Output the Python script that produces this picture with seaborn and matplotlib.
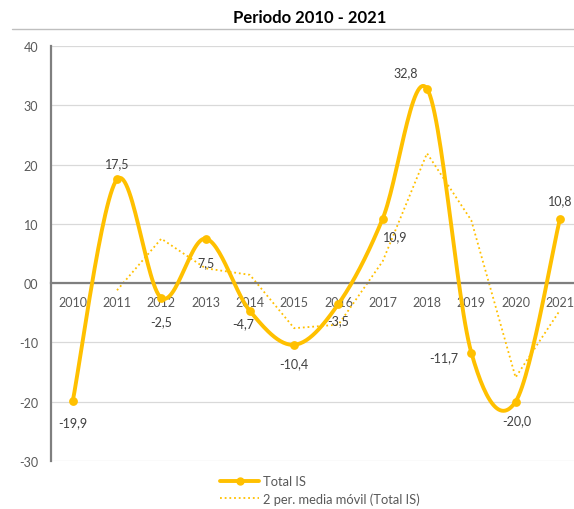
import numpy as np
import pandas as pd
import seaborn as sns
import matplotlib.pyplot as plt
from matplotlib.lines import Line2D

# data
years = [2010, 2011, 2012, 2013, 2014, 2015, 2016, 2017, 2018, 2019, 2020, 2021]
total_is = [-19.9, 17.5, -2.5, 7.5, -4.7, -10.4, -3.5, 10.9, 32.8, -11.7, -20.0, 10.8]
media_movil = [np.nan, -1.2, 7.5, 2.5, 1.4, -7.6, -7.0, 3.7, 21.9, 10.6, -15.9, -4.6]
labels = ["-19,9", "17,5", "-2,5", "7,5", "-4,7", "-10,4", "-3,5", "10,9", "32,8", "-11,7", "-20,0", "10,8"]
y_ticks = [-30, -20, -10, 0, 10, 20, 30, 40]
y_ticklabels = ["-30", "-20", "-10", "00", "10", "20", "30", "40"]

GOLD = "#FFC000"
GRAY = "#595959"

sns.set_theme(style="white")
plt.rcParams['font.family'] = ['Lato', 'DejaVu Sans']


def excel_smooth(x, y, n=30):
    # bezier segments like Excel's "smoothed line" (catmull-rom style tangents)
    x = np.asarray(x, float)
    y = np.asarray(y, float)
    px = np.concatenate([[x[0]], x, [x[-1]]])
    py = np.concatenate([[y[0]], y, [y[-1]]])
    xs, ys = [], []
    t = np.linspace(0, 1, n)
    for i in range(len(x) - 1):
        p0 = np.array([px[i + 1], py[i + 1]])
        p3 = np.array([px[i + 2], py[i + 2]])
        c1 = p0 + (p3 - np.array([px[i], py[i]])) / 6
        c2 = p3 - (np.array([px[i + 3], py[i + 3]]) - p0) / 6
        pts = ((1 - t) ** 3)[:, None] * p0 + (3 * (1 - t) ** 2 * t)[:, None] * c1 \
            + (3 * (1 - t) * t ** 2)[:, None] * c2 + (t ** 3)[:, None] * p3
        xs.extend(pts[:, 0])
        ys.extend(pts[:, 1])
    return np.array(xs), np.array(ys)


idx = np.arange(len(years))
df = pd.DataFrame({"i": idx, "total": total_is, "mm": media_movil})
sx, sy = excel_smooth(idx, total_is)
smooth = pd.DataFrame({"x": sx, "y": sy})

fig = plt.figure(figsize=(5.74, 5.10), dpi=100)
ax = fig.add_axes([50.6 / 574, 48 / 510, (582 - 50.6) / 574, 415 / 510])

# gridlines
for v in y_ticks:
    ax.axhline(v, color="#d9d9d9", lw=0.9, zorder=0)

sns.lineplot(data=df, x="i", y="mm", ax=ax, color=GOLD, lw=1.3,
             linestyle=(0, (1, 1.6)), zorder=2)
sns.lineplot(data=smooth, x="x", y="y", ax=ax, color=GOLD, lw=2.8, sort=False, zorder=3)
sns.scatterplot(data=df, x="i", y="total", ax=ax, color=GOLD, s=40, edgecolor=GOLD,
                linewidth=0, zorder=4)

# data labels (offset in points)
offsets = [(0, -15), (0, 12), (0, -17), (0, -17), (-5, -9), (0, -13), (0, -12),
           (9, -13), (-15, 12), (-20, -3), (1, -13), (0, 14)]
for i, (lab, off) in enumerate(zip(labels, offsets)):
    ax.annotate(lab, (i, total_is[i]), xytext=off, textcoords="offset points",
                ha="center", va="center", fontsize=9, color="#404040", zorder=5)

ax.set_xlim(-0.5, 11.5)
ax.set_ylim(-30, 40)
ax.set_xlabel("")
ax.set_ylabel("")

# x axis sits on zero
ax.spines['bottom'].set_position(('data', 0))
ax.spines['bottom'].set_color("#7f7f7f")
ax.spines['bottom'].set_linewidth(1.6)
ax.spines['left'].set_color("#7f7f7f")
ax.spines['left'].set_linewidth(1.6)
ax.spines['top'].set_visible(False)
ax.spines['right'].set_visible(False)

ax.set_xticks(idx)
ax.set_xticklabels([str(y) for y in years], fontsize=9, color=GRAY)
ax.set_xticks(np.arange(-0.5, 12, 1), minor=True)
ax.tick_params(axis="x", which="major", length=0, pad=9)
ax.tick_params(axis="x", which="minor", length=4, width=1, color="#7f7f7f", direction="out")

ax.set_yticks(y_ticks)
ax.set_yticklabels(y_ticklabels, fontsize=9, color=GRAY)
ax.tick_params(axis="y", length=0, pad=9)

# title and top rule
fig.text(310 / 574, 1 - 18 / 510, "Periodo 2010 - 2021", ha="center", va="center",
         fontsize=12, fontweight="bold", color="black")
fig.add_artist(Line2D([12 / 574, 1], [1 - 30 / 510, 1 - 30 / 510], color="#bfbfbf", lw=1))

handles = [Line2D([], [], color=GOLD, lw=2.8, marker="o", markersize=5),
           Line2D([], [], color=GOLD, lw=1.3, linestyle=(0, (1, 1.6)))]
fig.legend(handles, ["Total IS", "2 per. media móvil (Total IS)"],
           loc="center left", bbox_to_anchor=(214 / 574, 1 - 491 / 510), frameon=False,
           fontsize=9.3, labelcolor=GRAY, handlelength=3.0, handletextpad=0.3,
           labelspacing=0.35, borderpad=0)

fig.savefig("out.png", dpi=100)
